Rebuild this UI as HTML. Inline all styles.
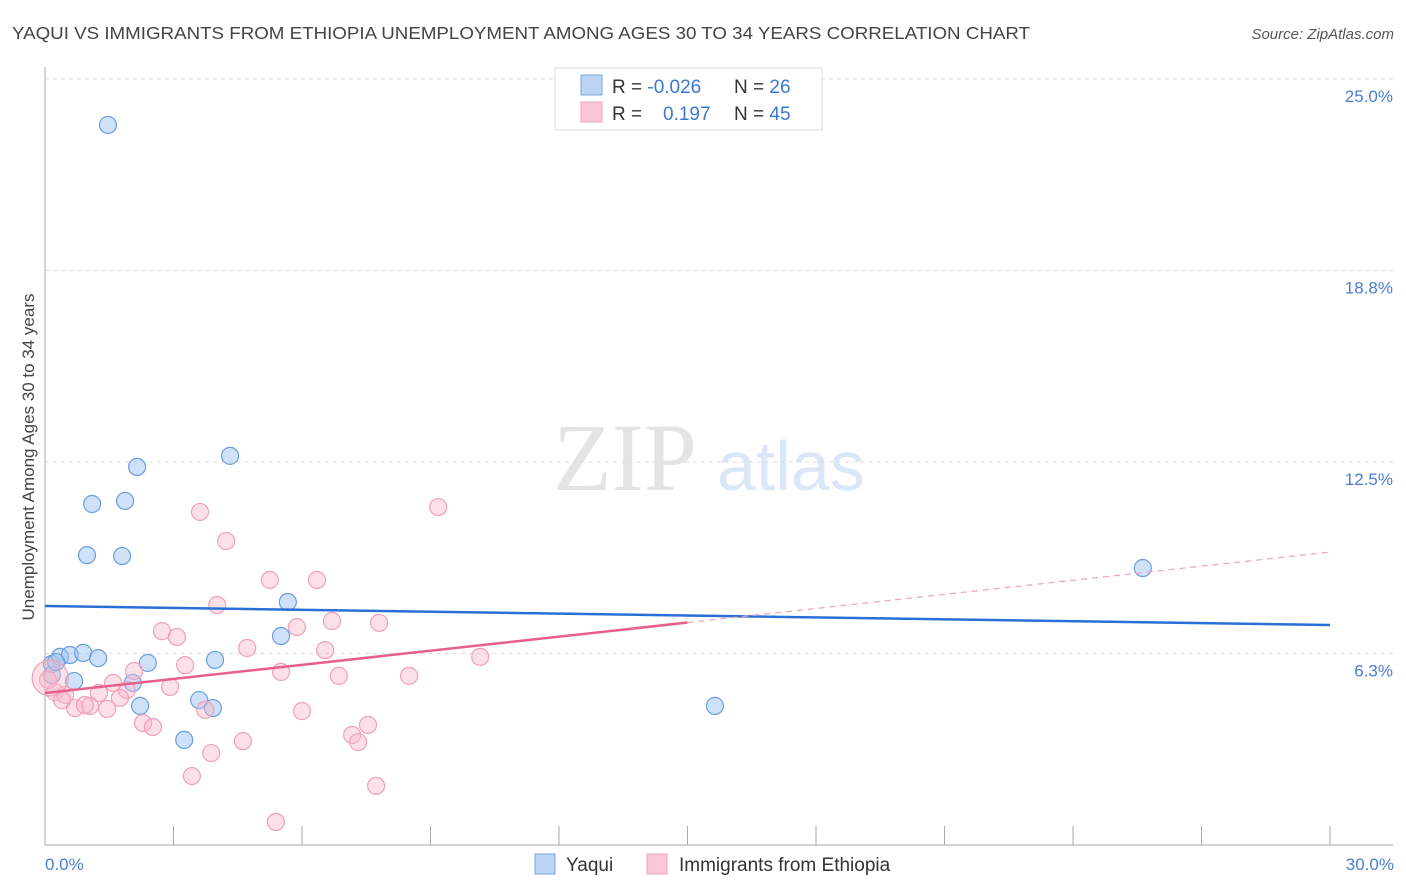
<!DOCTYPE html>
<html><head><meta charset="utf-8"><style>
body{margin:0;background:#fff;width:1406px;height:892px;overflow:hidden;font-family:"Liberation Sans",sans-serif}
svg{position:absolute;left:0;top:0}
</style></head><body>
<svg id="chart" width="1406" height="892">
<text x="12" y="39" font-size="17.5" fill="#444" textLength="1018" lengthAdjust="spacingAndGlyphs">YAQUI VS IMMIGRANTS FROM ETHIOPIA UNEMPLOYMENT AMONG AGES 30 TO 34 YEARS CORRELATION CHART</text>
<text x="1394" y="39" font-size="15" fill="#555" font-style="italic" text-anchor="end">Source: ZipAtlas.com</text>
<text x="553" y="490" font-size="96" fill="#e4e4e4" font-family="Liberation Serif,serif">ZIP</text>
<text x="717" y="490" font-size="70" fill="#dbe6f6">atlas</text>
<g id="grid"></g>
<g id="axes"></g>
<g id="marks"></g>
<text transform="translate(34,457) rotate(-90)" font-size="17" fill="#444" text-anchor="middle">Unemployment Among Ages 30 to 34 years</text>
<text x="45" y="870" font-size="17" fill="#4a7fd0">0.0%</text>
<text x="1394" y="870" font-size="17" fill="#4a7fd0" text-anchor="end">30.0%</text>
<g>
<rect x="555" y="68" width="267" height="62" fill="#fff" stroke="#ddd"/>
<rect x="581" y="75" width="21" height="20" fill="#bcd4f4" stroke="#7aa6e6"/>
<rect x="581" y="102" width="21" height="20" fill="#fcc8d8" stroke="#f0a0b8"/>
<text x="612" y="93" font-size="19" fill="#333">R = <tspan fill="#3a78d4">-0.026</tspan></text>
<text x="734" y="93" font-size="19" fill="#333">N = <tspan fill="#3a78d4">26</tspan></text>
<text x="612" y="120" font-size="19" fill="#333">R = <tspan fill="#3a78d4" x="663">0.197</tspan></text>
<text x="734" y="120" font-size="19" fill="#333">N = <tspan fill="#3a78d4">45</tspan></text>
</g>
<g>
<rect x="535" y="854" width="20" height="20" fill="#bcd4f4" stroke="#7aa6e6"/>
<text x="566" y="871" font-size="19" fill="#333">Yaqui</text>
<rect x="647" y="854" width="20" height="20" fill="#fcc8d8" stroke="#f0a0b8"/>
<text x="679" y="871" font-size="19" fill="#333">Immigrants from Ethiopia</text>
</g>
</svg>
<script>
const yTicks=[6.25,12.5,18.75,25];
const yTickLabels=["6.3%","12.5%","18.8%","25.0%"];
const xTicks=[0,3,6,9,12,15,18,21,24,27,30];
const yaquiX=[1.47,2.15,4.32,1.10,1.87,0.98,1.80,25.63,5.67,5.51,0.16,0.35,0.58,0.89,1.24,2.40,3.97,0.68,2.05,0.16,2.22,3.60,3.92,3.25,15.64,0.26];
const yaquiY=[23.50,12.34,12.70,11.13,11.23,9.46,9.43,9.04,7.93,6.82,5.91,6.14,6.20,6.27,6.10,5.94,6.04,5.35,5.29,5.55,4.54,4.73,4.47,3.43,4.54,5.97];
const ethX=[9.18,3.62,4.23,5.25,6.35,4.02,6.70,7.80,2.73,3.08,5.88,4.72,6.54,10.16,2.08,3.27,5.51,6.86,8.50,2.92,1.59,1.91,1.26,0.23,0.47,0.07,1.75,1.05,0.70,1.45,2.29,2.52,3.74,6.00,7.54,7.17,7.31,4.62,3.88,3.43,7.73,5.39,0.40,0.93,0.12];
const ethY=[11.03,10.87,9.92,8.65,8.65,7.83,7.31,7.25,6.98,6.79,7.11,6.43,6.36,6.14,5.68,5.87,5.65,5.52,5.52,5.16,5.29,5.06,4.96,4.99,4.90,5.39,4.80,4.54,4.47,4.44,3.98,3.85,4.41,4.37,3.92,3.59,3.36,3.39,3.00,2.25,1.93,0.75,4.73,4.57,5.45];
const yaquiTrend=[7.80,7.18];
const ethTrend=[4.96,9.56];
const ethSolidEnd=15;
const NS="http://www.w3.org/2000/svg";
const X=v=>45+v/30*1285, Y=v=>845-v/25*766;
function mk(tag,attrs,parent){const e=document.createElementNS(NS,tag);for(const k in attrs)e.setAttribute(k,attrs[k]);parent.appendChild(e);return e;}
const grid=document.getElementById('grid'),axes=document.getElementById('axes'),marks=document.getElementById('marks');
yTicks.forEach((t,i)=>{
 const l=mk('line',{x1:45,x2:1393,y1:Y(t),y2:Y(t),stroke:'#ddd','stroke-dasharray':'4,4'},grid);
 
 
 const tx=mk('text',{x:1393,y:Y(t)+23,'font-size':17,fill:'#4a7fd0','text-anchor':'end'},grid);
 tx.textContent=yTickLabels[i];
 
 
});
const topGrid=mk('line',{x1:45,x2:1393,y1:79,y2:79,stroke:'#ddd','stroke-dasharray':'4,4'},grid);

const yAxis=mk('line',{x1:45,x2:45,y1:67,y2:845,stroke:'#aaa'},axes);

const xAxis=mk('line',{x1:45,x2:1393,y1:845,y2:845,stroke:'#aaa'},axes);

xTicks.forEach(t=>{
 const l=mk('line',{x1:X(t),x2:X(t),y1:826,y2:845,stroke:'#aaa'},axes);
 
 
});
yaquiX.forEach((v,i)=>{
 const c=mk('circle',{cx:X(v),cy:Y(yaquiY[i]),r:8.5,fill:'rgba(160,196,240,0.5)',stroke:'#6a9ee0','stroke-width':1.2},marks);
 
 
});
ethX.forEach((v,i)=>{
 const c=mk('circle',{cx:X(v),cy:Y(ethY[i]),r:(i===ethX.length-1?18:8.5),fill:'rgba(248,180,200,0.42)',stroke:'#f0a0b8','stroke-width':1.2},marks);
 
 
});
const bt=mk('line',{x1:X(0),y1:Y(yaquiTrend[0]),x2:X(30),y2:Y(yaquiTrend[1]),stroke:'#2a6fd6','stroke-width':2.5},marks);


const ey=x=>ethTrend[0]+(ethTrend[1]-ethTrend[0])*x/30;
const ps=mk('line',{x1:X(0),y1:Y(ey(0)),x2:X(ethSolidEnd),y2:Y(ey(ethSolidEnd)),stroke:'#e8608a','stroke-width':2.5},marks);


const pd=mk('line',{x1:X(ethSolidEnd),y1:Y(ey(ethSolidEnd)),x2:X(30),y2:Y(ey(30)),stroke:'#f0a0b8','stroke-width':1.2,'stroke-dasharray':'6,5'},marks);


</script>
</body></html>
